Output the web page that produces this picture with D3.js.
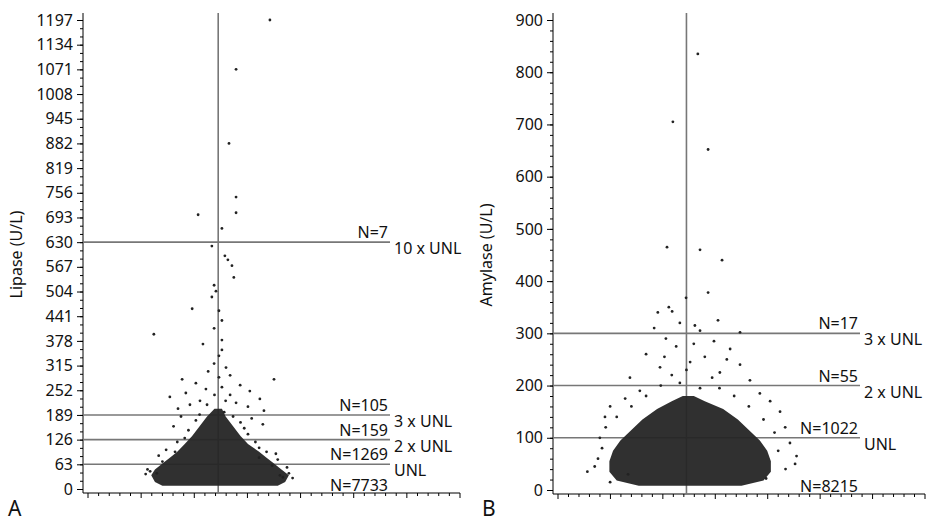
<!DOCTYPE html>
<html><head><meta charset="utf-8">
<script src="https://cdn.jsdelivr.net/npm/d3@7"></script>
<style>body{margin:0;background:#fff}text{font-family:"Noto Sans","Open Sans",sans-serif;fill:#111}</style>
</head><body>
<svg id="c" width="932" height="521"></svg>
<script>
// Panel A - lipase
var lipTicks = d3.range(0, 1198, 63);
var lipLevels = [{v:630, n:"N=7", lab:"10 x UNL"}, {v:189, n:"N=105", lab:"3 x UNL"},
  {v:126, n:"N=159", lab:"2 x UNL"}, {v:63, n:"N=1269", lab:"UNL"}];
var lipBottomN = "N=7733";
// dense core outline: [value, left, right]
var lipCore = [[8,20,51],[18,18,53],[35,17,54],[50,18,52],[65,20,50],[80,22,48],[95,24,46],[115,26,43],[135,28,41],[160,30,39],[185,32,37],[205,34,36]];
var lipPts = [[48.9,1197],[39.8,1071],[37.9,882],[39.8,745],[39.8,705],[29.6,700],[36,665],[33.3,620],[36.8,595],[37.6,585],
  [38.7,570],[39.2,540],[33.9,520],[34.4,505],[33.3,490],[35.2,455],[28,460],[36,430],[33.9,410],[17.7,395],[36,380],[30.9,370],
  [36,355],[35.2,340],[33.9,320],[37.1,310],[32.3,300],[38.2,290],[35.2,285],[25.3,280],[50,280],[29,270],[40.9,265],[31.7,255],
  [43.5,250],[26.3,245],[38.2,240],[22,235],[46.2,230],[30.1,225],[39.8,220],[27.4,215],[43,210],[24.2,205],[47.3,200],[36.6,196],
  [18.5,40],[16.7,45],[51.6,35],[52.4,30],[49.5,60],[46,80],[23.4,95],[46,105],[20,70],[50.5,90],[26,130],[43,140],[29,175],[41,170],
  [16,50],[15.5,38],[54,40],[55,28],[53.5,55],[51,75],[19,85],[21,100],[48,95],[24,120],[45,120],[27,150],[42,155],[30,190],[39,185],
  [32,215],[37,225],[23,160],[47,165],[44,180],[25,185],[34,240],[36,260]];
// Panel B - amylase
var amyTicks = d3.range(0, 901, 100);
var amyLevels = [{v:300, n:"N=17", lab:"3 x UNL"}, {v:200, n:"N=55", lab:"2 x UNL"}, {v:100, n:"N=1022", lab:"UNL"}];
var amyBottomN = "N=8215";
var amyCore = [[8,22,50],[18,16,56],[35,14,58],[55,14,58],[75,15,57],[95,17,55],[115,20,52],[135,23,49],[155,27,45],[170,31,40],[180,34,37]];
var amyPts = [[38.1,835],[31.3,705],[40.9,652],[29.7,465],[38.7,460],[44.7,440],[40.9,378],[30.2,350],[31.1,342],[34.9,368],
  [27.2,340],[43.6,325],[33.2,320],[37.3,315],[38.7,305],[26.2,310],[49.6,302],[29.4,290],[42.5,285],[32.2,275],[46.9,270],
  [24,260],[40,255],[36,245],[49.6,240],[27.8,235],[44.1,225],[19.6,215],[52.3,210],[33.2,205],[38.7,195],[22.3,190],[55,185],
  [18.3,175],[57.8,170],[14.2,160],[60.5,150],[12.8,140],[61.9,120],[11.4,100],[63.2,90],[10.9,60],[64.6,50],[19.1,30],[56.7,22],[14.2,15],
  [12,80],[60,75],[10,45],[62,40],[13,120],[59,110],[16,140],[56,135],[20,160],[52,160],[24,180],[48,180],[28,200],[44,195],[31,220],[42,215],
  [35,230],[37,280],[29,255],[46,250],[8,35],[65,65]];

var svg = d3.select("#c");

function panel(o) {
  var x = d3.scaleLinear().domain([0,100]).range([o.x0, o.x1]);
  var y = d3.scaleLinear().domain([0, o.max]).range([o.yb, o.yt]);
  var g = svg.append("g");
  g.append("g").attr("transform","translate("+o.ax+",0)")
    .call(d3.axisLeft(y).tickValues(d3.range(0, o.max + 0.1, o.minor)).tickSize(3).tickFormat(""))
    .call(s => s.select(".domain").remove());
  g.append("g").attr("transform","translate("+o.ax+",0)")
    .call(d3.axisLeft(y).tickValues(o.ticks).tickSize(6).tickPadding(4).tickFormat(d3.format("d")))
    .call(s => s.selectAll("text").style("font-size","16px"))
    .call(s => s.select(".domain").attr("d","M0,"+(o.yt-7)+"V"+(o.yb+4)));
  g.append("line").attr("x1",o.ax).attr("x2",o.x1).attr("y1",o.yb+4).attr("y2",o.yb+4).attr("stroke","#000");
  g.selectAll(".xt").data(d3.range(0, 36)).join("line")
    .attr("x1",d => x(d*100/35)).attr("x2",d => x(d*100/35))
    .attr("y1",o.yb+4).attr("y2",d => o.yb + (d % 5 == 0 ? 9 : 7)).attr("stroke","#000");
  g.append("line").attr("x1",x(35)).attr("x2",x(35)).attr("y1",o.yt-7).attr("y2",o.yb+4)
    .attr("stroke","#777").attr("stroke-width",1.6);
  g.selectAll(".lv").data(o.levels).join("line")
    .attr("x1",o.ax).attr("x2",o.lx).attr("y1",d => y(d.v)).attr("y2",d => y(d.v))
    .attr("stroke","#777").attr("stroke-width",1.6);
  var area = d3.area().curve(d3.curveLinear)
    .y(d => y(d[0])).x0(d => x(d[1])).x1(d => x(d[2]));
  g.append("path").datum(o.core).attr("d", area).attr("fill","#252525").attr("fill-opacity",0.95);
  g.selectAll(".pt").data(o.pts).join("circle")
    .attr("cx",d => x(d[0])).attr("cy",d => y(d[1])).attr("r",1.4).attr("fill","#222");
  o.levels.forEach(function(d) {
    g.append("text").attr("x",o.lx-2).attr("y",y(d.v)-4).attr("text-anchor","end").style("font-size","16px").text(d.n);
    g.append("text").attr("x",o.lx+4).attr("y",y(d.v)+12).style("font-size","16px").text(d.lab);
  });
  g.append("text").attr("x",o.lx-2).attr("y",o.yb+2).attr("text-anchor","end").style("font-size","16px").text(o.bottomN);
  g.append("text").attr("transform","translate("+o.tx+","+((o.yt+o.yb)/2)+") rotate(-90)")
    .attr("text-anchor","middle").style("font-size","16px").text(o.title);
  g.append("text").attr("x",o.px).attr("y",516).style("font-size","21px").text(o.letter);
}

panel({x0:88, x1:460, ax:83, yt:20, yb:489, max:1197, ticks:lipTicks, minor:21, levels:lipLevels,
  core:lipCore, pts:lipPts, lx:390, bottomN:lipBottomN, title:"Lipase (U/L)", tx:22, px:8, letter:"A"});
panel({x0:558, x1:925, ax:553, yt:20, yb:490, max:900, ticks:amyTicks, minor:20, levels:amyLevels,
  core:amyCore, pts:amyPts, lx:860, bottomN:amyBottomN, title:"Amylase (U/L)", tx:492, px:482, letter:"B"});
</script>
</body></html>
